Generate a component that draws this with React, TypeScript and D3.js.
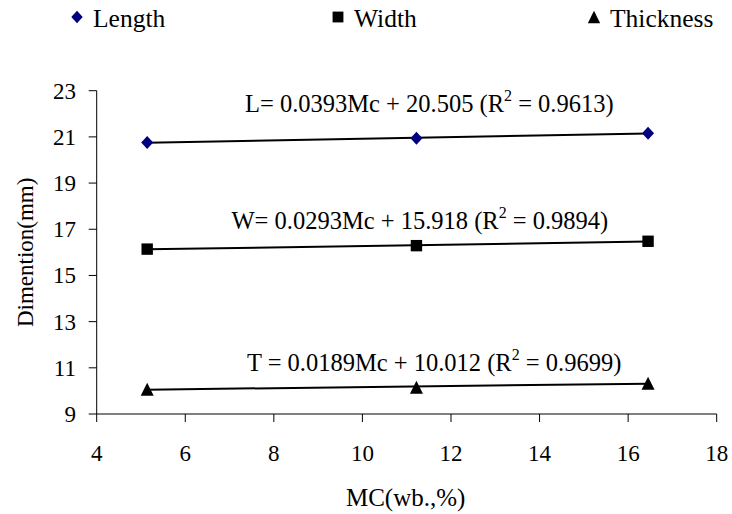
import React from "react";
import * as d3 from "d3";

const mcValues = [5.14, 11.22, 16.45];
const lengthValues = [20.76, 20.94, 21.16];
const widthValues = [16.14, 16.29, 16.48];
const thicknessValues = [10.07, 10.16, 10.33];

const xTicks = [4, 6, 8, 10, 12, 14, 16, 18];
const yTicks = [9, 11, 13, 15, 17, 19, 21, 23];

const seriesNames = ["Length", "Width", "Thickness"];
const eqMain = [
  "L= 0.0393Mc + 20.505 (R",
  "W= 0.0293Mc + 15.918 (R",
  "T = 0.0189Mc + 10.012 (R",
];
const eqTail = [" = 0.9613)", " = 0.9894)", " = 0.9699)"];

const W = 732;
const H = 514;
const FONT = "Liberation Serif, Times New Roman, serif";
const ts = { fontFamily: FONT };

function fit(xs: number[], ys: number[]) {
  const mx = d3.mean(xs)!;
  const my = d3.mean(ys)!;
  let num = 0, den = 0;
  xs.forEach((x, i) => { num += (x - mx) * (ys[i] - my); den += (x - mx) ** 2; });
  const b = num / den;
  return { b, a: my - b * mx };
}

function Marker({ kind, cx, cy, s = 1 }: { kind: string; cx: number; cy: number; s?: number }) {
  if (kind === "Length") {
    const hw = 6 * s, hh = 6.5 * s;
    return <path d={`M${cx},${cy - hh}L${cx + hw},${cy}L${cx},${cy + hh}L${cx - hw},${cy}Z`} fill="#000080" />;
  }
  if (kind === "Width") {
    const h = 5.7 * s;
    return <rect x={cx - h} y={cy - h} width={2 * h} height={2 * h} fill="#000" />;
  }
  const hb = 6.5 * s, ht = 6.5 * s;
  return <path d={`M${cx},${cy - ht}L${cx + hb},${cy + ht}L${cx - hb},${cy + ht}Z`} fill="#000" />;
}

export default function App() {
  const left = 96.7, right = 716.7, top = 90.7, bottom = 414;
  const x = d3.scaleLinear().domain([4, 18]).range([left, right]);
  const y = d3.scaleLinear().domain([9, 23]).range([bottom, top]);
  const allSeries = [lengthValues, widthValues, thicknessValues];
  const eqPos = [
    { x: 245, y: 112 },
    { x: 231.5, y: 229 },
    { x: 247, y: 370.5 },
  ];
  const legendPos = [77, 338, 594];

  const line = d3.line<[number, number]>().x((d) => x(d[0])).y((d) => y(d[1]));
  const xMin = d3.min(mcValues)!, xMax = d3.max(mcValues)!;

  return (
    <svg width={W} height={H} style={{ position: "absolute", left: 0, top: 0, background: "#fff" }}>
      <rect width={W} height={H} fill="#fff" />
      {seriesNames.map((n, i) => (
        <g key={n}>
          <Marker kind={n} cx={legendPos[i]} cy={17} s={0.95} />
          <text x={legendPos[i] + 16} y={27} fontSize={25.5} fill="#000" style={ts}>{n}</text>
        </g>
      ))}
      <line x1={left} x2={left} y1={top} y2={bottom} stroke="#000" strokeWidth={1} />
      <line x1={left} x2={right} y1={bottom} y2={bottom} stroke="#000" strokeWidth={1} />
      {yTicks.map((t) => (
        <g key={"y" + t}>
          <line x1={left - 8} x2={left} y1={y(t)} y2={y(t)} stroke="#000" />
          <text x={76} y={y(t) + 8} fontSize={23} textAnchor="end" fill="#000" style={ts}>{t}</text>
        </g>
      ))}
      {xTicks.map((t) => (
        <g key={"x" + t}>
          <line x1={x(t)} x2={x(t)} y1={bottom} y2={bottom + 8} stroke="#000" />
          <text x={x(t)} y={461} fontSize={23} textAnchor="middle" fill="#000" style={ts}>{t}</text>
        </g>
      ))}
      <text x={(left + right) / 2 - 1} y={506} fontSize={25} textAnchor="middle" fill="#000" style={ts}>MC(wb.,%)</text>
      <text transform={`translate(33,${(top + bottom) / 2}) rotate(-90)`} fontSize={23} textAnchor="middle" fill="#000" style={ts}>Dimention(mm)</text>
      {allSeries.map((vals, i) => {
        const { a, b } = fit(mcValues, vals);
        const pts: [number, number][] = [[xMin, a + b * xMin], [xMax, a + b * xMax]];
        return (
          <g key={"s" + i}>
            <path d={line(pts)!} stroke="#000" strokeWidth={2} fill="none" />
            {vals.map((v, j) => (
              <Marker key={j} kind={seriesNames[i]} cx={x(mcValues[j])} cy={y(v)} />
            ))}
            <text x={eqPos[i].x} y={eqPos[i].y} fontSize={24.5} fill="#000" style={ts}>
              {eqMain[i]}
              <tspan fontSize={16} dy={-11}>2</tspan>
              <tspan dy={11}>{eqTail[i]}</tspan>
            </text>
          </g>
        );
      })}
    </svg>
  );
}
